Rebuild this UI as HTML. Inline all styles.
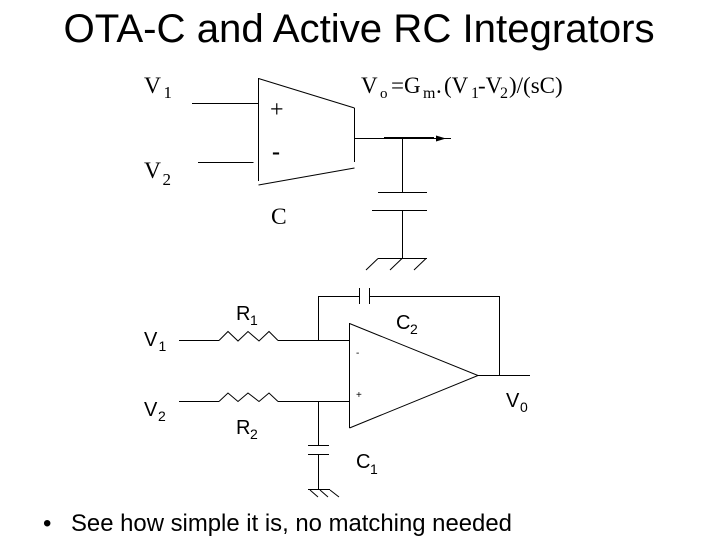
<!DOCTYPE html>
<html>
<head>
<meta charset="utf-8">
<style>
html,body{margin:0;padding:0;background:#fff;width:720px;height:540px;overflow:hidden}
svg{display:block}
.a{font-family:"Liberation Sans",sans-serif;fill:#000}
.s{font-family:"Liberation Serif",serif;fill:#000}
.l{fill:none;stroke:#000;stroke-width:1}
</style>
</head>
<body>
<svg width="720" height="540" viewBox="0 0 720 540" xmlns="http://www.w3.org/2000/svg">
<text class="a" x="63.500" y="42" font-size="40.200">OTA-C and Active RC Integrators</text>

<g shape-rendering="crispEdges">
<path class="l" d="M192 103.500H258.500M198 162.500H253.500M258.500 78V181M354.500 108V162"/>
<path class="l" d="M354.500 138.500H451M402.500 138.500V192.500M378 192.500H427M372 210.500H427M402.500 210.500V258.500M378 258.500H427"/>
<path d="M384 137h50v2h-50z"/>
</g>
<path class="l" d="M258.500 78.500L354.500 108M258.500 185L354.500 168M378 258.500L366 270M402 258.500L390 270M426 258.500L414 270"/>
<path d="M436 135.500L446 138.500L436 141.500Z"/>

<text class="s" x="144" y="93" font-size="23.500">V</text>
<text class="s" x="163.500" y="98" font-size="17">1</text>
<text class="s" x="144" y="178" font-size="23.500">V</text>
<text class="s" x="162.500" y="185" font-size="17">2</text>
<text class="s" x="270" y="117" font-size="24">+</text>
<text class="s" x="272" y="159" font-size="24" font-weight="bold">-</text>
<text class="s" x="271" y="224" font-size="23.500">C</text>
<text class="s" x="361" y="93" font-size="23">V</text>
<text class="s" x="380" y="98" font-size="15">o</text>
<text class="s" x="391" y="93" font-size="23">=G</text>
<text class="s" x="423" y="98" font-size="16">m</text>
<text class="s" x="436" y="93" font-size="23">.</text>
<text class="s" x="444" y="93" font-size="23">(V</text>
<text class="s" x="471" y="98" font-size="16">1</text>
<text class="s" x="478" y="93" font-size="23">-V</text>
<text class="s" x="500" y="98" font-size="16">2</text>
<text class="s" x="509" y="93" font-size="23">)/(sC)</text>

<g shape-rendering="crispEdges">
<path class="l" d="M179 340.500H219M278 340.500H349M179 401.500H219M278 401.500H349M318.500 296V340M318.500 401V445M318.500 454V489M318.500 296.500H359.500M359.500 288V304M369.500 288V304M369.500 296.500H499.500V375M478 375.500H530M349.500 323V428"/>
<path class="l" d="M308 445.500H329M308 454.500H329M308 489.500H330"/>
</g>
<path class="l" d="M349.500 323.500L478 375.500L349.500 428M219 340.500L228 331.500L238 341L248 331.500L259 341L269 331.500L278 340.500M219 401.500L228 393L238 401.500L248 393L259 401.500L269 393L278 401.500M310 490L318 497M320 490L328 497M330 490L339 497"/>

<text class="a" x="144" y="346" font-size="20">V</text>
<text class="a" x="158.500" y="351" font-size="14">1</text>
<text class="a" x="144" y="416" font-size="20">V</text>
<text class="a" x="158" y="421" font-size="14">2</text>
<text class="a" x="236" y="320" font-size="20">R</text>
<text class="a" x="250" y="325" font-size="14">1</text>
<text class="a" x="236" y="434" font-size="20">R</text>
<text class="a" x="250" y="439" font-size="14">2</text>
<text class="a" x="396" y="329" font-size="20">C</text>
<text class="a" x="410" y="334" font-size="14">2</text>
<text class="a" x="356" y="468" font-size="20">C</text>
<text class="a" x="370" y="474" font-size="14">1</text>
<text class="a" x="506" y="407" font-size="20">V</text>
<text class="a" x="520" y="412" font-size="14">0</text>
<text class="a" x="356" y="356" font-size="10">-</text>
<text class="a" x="356" y="398" font-size="10">+</text>

<text class="a" x="43" y="531" font-size="24">•</text>
<text class="a" x="71" y="531" font-size="23.900">See how simple it is, no matching needed</text>
</svg>
</body>
</html>
